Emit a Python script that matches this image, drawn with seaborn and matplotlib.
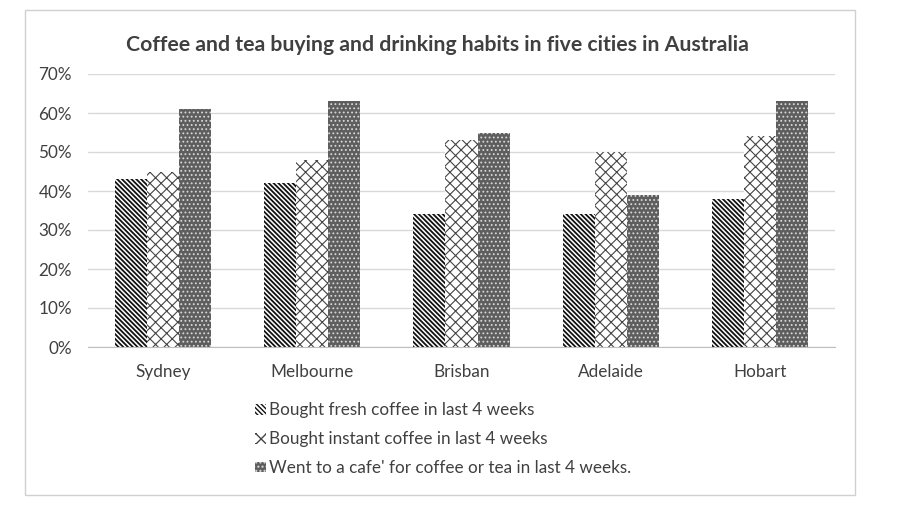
import pandas as pd
import seaborn as sns
import matplotlib.pyplot as plt
from matplotlib.patches import Rectangle, Patch
from matplotlib.ticker import PercentFormatter

cities = ['Sydney', 'Melbourne', 'Brisban', 'Adelaide', 'Hobart']
fresh = [43, 42, 34, 34, 38]
instant = [45, 48, 53, 50, 54]
cafe = [61, 63, 55, 39, 63]
series = ['Bought fresh coffee in last 4 weeks',
          'Bought instant coffee in last 4 weeks',
          "Went to a cafe' for coffee or tea in last 4 weeks."]

df = pd.DataFrame({
    'city': cities * 3,
    'value': fresh + instant + cafe,
    'series': [series[0]] * 5 + [series[1]] * 5 + [series[2]] * 5,
})

sns.set_style('white')
plt.rcParams['font.family'] = ['Lato', 'DejaVu Sans']
plt.rcParams['hatch.linewidth'] = 1.0

fig = plt.figure(figsize=(9.04, 5.14), dpi=100)
ax = fig.add_axes([88 / 904, 1 - 347 / 514, (835 - 88) / 904, (347 - 74) / 514])

sns.barplot(data=df, x='city', y='value', hue='series', width=0.645,
            palette=['white', 'white', '#5e5e5e'], ax=ax, legend=False,
            saturation=1)

# hatch look of each series: fill, hatch, hatch colour, hatch line width
styles = [
    dict(face='white', hatch='\\' * 7, hc='#111111', lw=1.3),
    dict(face='white', hatch='xxx', hc='#444444', lw=0.8),
    dict(face='#5e5e5e', hatch='....', hc='#d8d8d8', lw=0.8),
]

def style_patch(p, st):
    p.set_facecolor(st['face'])
    p.set_hatch(st['hatch'])
    p.set_edgecolor(st['hc'])
    p.set_linewidth(0)
    if hasattr(p, 'set_hatch_linewidth'):
        p.set_hatch_linewidth(st['lw'])

for cont, st in zip(ax.containers, styles):
    for bar in cont:
        style_patch(bar, st)

ax.set_ylim(0, 70)
ax.set_yticks(range(0, 71, 10))
ax.yaxis.set_major_formatter(PercentFormatter(decimals=0))
ax.grid(axis='y', color='#d9d9d9', linewidth=1)
ax.set_axisbelow(True)
for s in ['top', 'right', 'left']:
    ax.spines[s].set_visible(False)
ax.spines['bottom'].set_color('#bfbfbf')
ax.set_xlabel('')
ax.set_ylabel('')
ax.tick_params(axis='both', length=0, labelsize=12.3, colors='#404040')
ax.tick_params(axis='x', pad=12)
ax.tick_params(axis='y', pad=11.5)

fig.text(437 / 904, 1 - 45 / 514, 'Coffee and tea buying and drinking habits in five cities in Australia',
         ha='center', va='center', fontsize=15.3, fontweight='bold', color='#404040')

handles = []
for st in styles:
    h = Patch()
    style_patch(h, st)
    handles.append(h)
fig.legend(handles, series, loc='upper left', bbox_to_anchor=(240 / 904, 1 - 387 / 514),
           frameon=False, fontsize=12.3, handlelength=0.6, handleheight=0.6,
           handletextpad=0.2, labelspacing=0.75, labelcolor='#404040')

fig.patches.append(Rectangle((25 / 904, 1 - 495 / 514), (855 - 25) / 904, (495 - 10) / 514,
                             transform=fig.transFigure, fill=False, edgecolor='#d0d0d0', linewidth=1))

fig.savefig('out.png', dpi=100)
